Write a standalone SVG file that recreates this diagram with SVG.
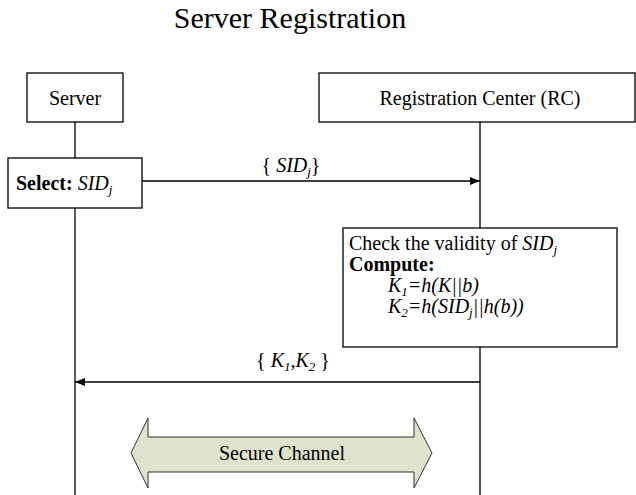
<svg xmlns="http://www.w3.org/2000/svg" width="636" height="495" viewBox="0 0 636 495">
<defs>
<style>
text{font-family:"Liberation Serif","Times New Roman",serif;fill:#000;font-size:20px}
.box{fill:#fff;stroke:#000;stroke-width:1.3}
.life{stroke:#000;stroke-width:1.3;fill:none}
.msg{stroke:#000;stroke-width:1.3;fill:none}
.i{font-style:italic}
.b{font-weight:bold}
.sub{font-size:13px;font-style:italic}
</style>
<marker id="ah" viewBox="0 0 10 8" refX="10" refY="4" markerWidth="10" markerHeight="8" markerUnits="userSpaceOnUse" orient="auto">
<path d="M0,0 L10,4 L0,8 Z" fill="#000"/>
</marker>
</defs>
<rect width="636" height="495" fill="#fff"/>
<text x="290" y="28" text-anchor="middle" style="font-size:30px">Server Registration</text>

<g id="connectors">
<line class="life" x1="75" y1="122" x2="75" y2="495"/>
<line class="life" x1="480" y1="122" x2="480" y2="495"/>
<line class="msg" x1="142" y1="181" x2="480" y2="181" marker-end="url(#ah)"/>
<text x="291" y="172" text-anchor="middle">{ <tspan class="i">SID</tspan><tspan class="sub" dy="4">j</tspan><tspan dy="-4">}</tspan></text>
<line class="msg" x1="480" y1="382" x2="75" y2="382" marker-end="url(#ah)"/>
<text x="293" y="367" text-anchor="middle">{ <tspan class="i">K</tspan><tspan class="sub" dy="4">1</tspan><tspan class="i" dy="-4">,K</tspan><tspan class="sub" dy="4">2</tspan><tspan dy="-4"> }</tspan></text>
</g>

<g id="server">
<rect class="box" x="27" y="73" width="96" height="49"/>
<text x="75" y="105" text-anchor="middle">Server</text>
</g>

<g id="rc">
<rect class="box" x="319" y="73" width="316" height="49"/>
<text x="480" y="105" text-anchor="middle">Registration Center (RC)</text>
</g>

<g id="select">
<rect class="box" x="8" y="158" width="134" height="50"/>
<text x="16" y="190"><tspan class="b">Select:</tspan> <tspan class="i">SID</tspan><tspan class="sub" dy="4">j</tspan></text>
</g>

<g id="compute">
<rect class="box" x="343" y="228" width="274" height="119"/>
<text x="349" y="250">Check the validity of <tspan class="i">SID</tspan><tspan class="sub" dy="4">j</tspan></text>
<text x="349" y="271" class="b">Compute:</text>
<text x="388" y="292" class="i">K<tspan class="sub" dy="4">1</tspan><tspan dy="-4">=h(K||b)</tspan></text>
<text x="388" y="313" class="i">K<tspan class="sub" dy="4">2</tspan><tspan dy="-4">=h(SID</tspan><tspan class="sub" dy="4">j</tspan><tspan dy="-4">||h(b))</tspan></text>
</g>

<g id="secure-channel">
<path d="M131,453 L148,418 L148,437 L414,437 L414,418 L432,453 L414,488 L414,472 L148,472 L148,488 Z" fill="#dfe3cc" stroke="#333" stroke-width="1"/>
<text x="282" y="460" text-anchor="middle">Secure Channel</text>
</g>
</svg>
